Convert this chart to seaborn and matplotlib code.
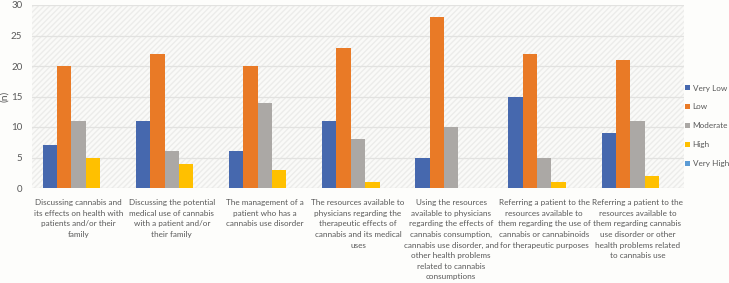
import matplotlib
matplotlib.use("Agg")
import matplotlib.pyplot as plt
import seaborn as sns
import pandas as pd
from matplotlib.patches import Rectangle

categories = [
    "Discussing cannabis and\nits effects on health with\npatients and/or their\nfamily",
    "Discussing the potential\nmedical use of cannabis\nwith a patient and/or\ntheir family",
    "The management of a\npatient who has a\ncannabis use disorder",
    "The resources available to\nphysicians regarding the\ntherapeutic effects of\ncannabis and its medical\nuses",
    "Using the resources\navailable to physicians\nregarding the effects of\ncannabis consumption,\ncannabis use disorder, and\nother health problems\nrelated to cannabis\nconsumptions",
    "Referring a patient to the\nresources available to\nthem regarding the use of\ncannabis or cannabinoids\nfor therapeutic purposes",
    "Referring a patient to the\nresources available to\nthem regarding cannabis\nuse disorder or other\nhealth problems related\nto cannabis use",
]
levels = ["Very Low", "Low", "Moderate", "High", "Very High"]
very_low = [7, 11, 6, 11, 5, 15, 9]
low = [20, 22, 20, 23, 28, 22, 21]
moderate = [11, 6, 14, 8, 10, 5, 11]
high = [5, 4, 3, 1, 0, 1, 2]
very_high = [0, 0, 0, 0, 0, 0, 0]
yticks = [0, 5, 10, 15, 20, 25, 30]

series = [very_low, low, moderate, high, very_high]
rows = []
for lvl, vals in zip(levels, series):
    for c, v in zip(categories, vals):
        rows.append({"Item": c, "Level": lvl, "n": v})
df = pd.DataFrame(rows)

colors = ["#4668AE", "#E97A26", "#ABA8A5", "#FFC000", "#5B9BD5"]

plt.rcParams["font.family"] = ["Lato", "DejaVu Sans"]

fig = plt.figure(figsize=(7.29, 2.83), dpi=100, facecolor="#fdfdfb")
ax = fig.add_axes([32/729, 1-188/283, (684-32)/729, (188-5)/283])
ax.set_facecolor("#fafaf8")
ax.add_patch(Rectangle((0, 0), 1, 1, transform=ax.transAxes, facecolor="none",
                       edgecolor="#ececea", hatch="//////", linewidth=0, zorder=0))

sns.barplot(data=df, x="Item", y="n", hue="Level", hue_order=levels,
            order=categories, palette=colors, width=0.77, ax=ax,
            saturation=1, zorder=3, edgecolor="none")

ax.set_ylim(0, 30)
ax.set_yticks(yticks)
ax.set_xlim(-0.5, len(categories) - 0.5)
ax.grid(axis="y", color="#e2e2e0", linewidth=0.9, zorder=1)
ax.set_axisbelow(True)
for s in ax.spines.values():
    s.set_visible(False)
ax.tick_params(axis="both", length=0, colors="#595959", labelsize=7)
ax.tick_params(axis="y", pad=7)
ax.tick_params(axis="x", labelsize=5.9, pad=8)
for lbl in ax.get_xticklabels():
    lbl.set_linespacing(1.6)
    lbl.set_color("#595959")
ax.set_xlabel("")
ax.set_ylabel("(n)", color="#595959", fontsize=7.5)
ax.yaxis.set_label_coords(-0.035, 0.5)

leg = ax.legend(loc="center left", bbox_to_anchor=(1.0, 0.34), frameon=False,
                fontsize=5.9, handlelength=0.55, handleheight=0.55,
                handletextpad=0.35, labelspacing=1.45, borderaxespad=0.05,
                borderpad=0.1)
for t in leg.get_texts():
    t.set_color("#595959")

fig.savefig("out.png", dpi=100, facecolor=fig.get_facecolor())
